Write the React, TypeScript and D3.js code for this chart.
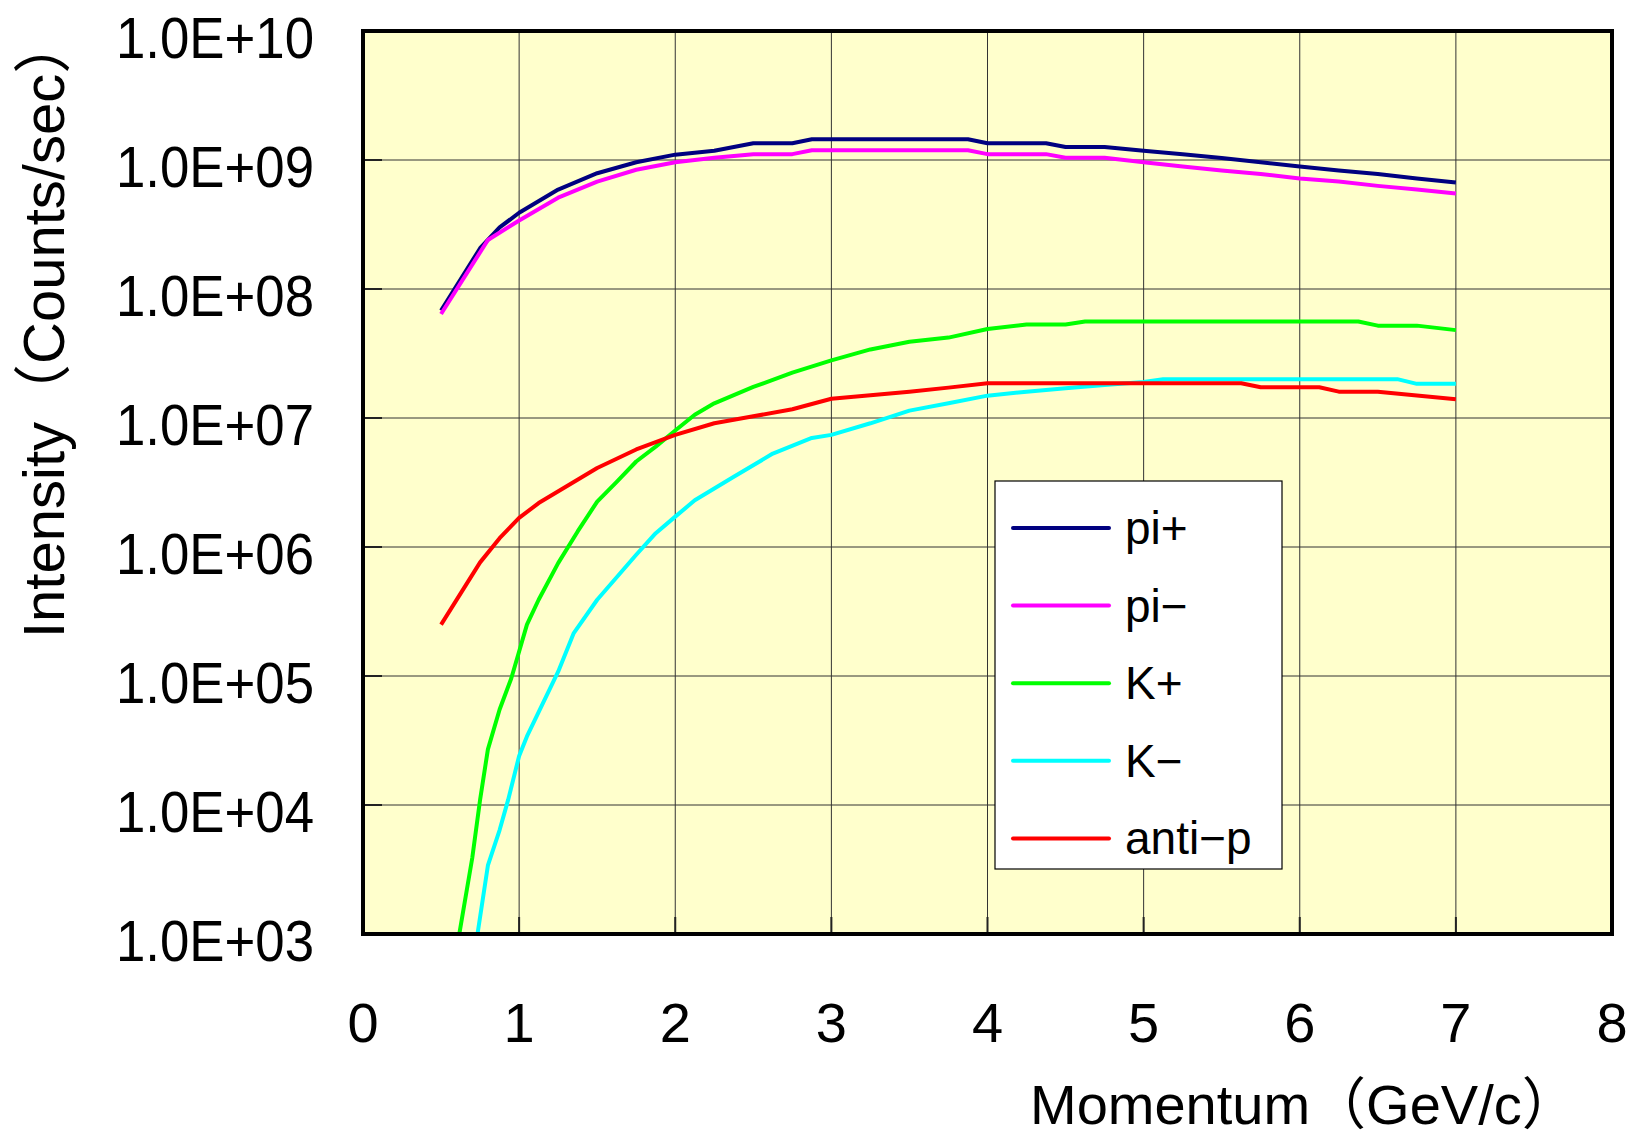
import React from 'react';
import * as d3 from 'd3';

const W = 1631;
const H = 1139;
const PLOT = { left: 363, right: 1612, top: 31, bottom: 934 };
const FONT = '"Liberation Sans", Arial, "Noto Sans CJK JP", sans-serif';

const xTicks = [0, 1, 2, 3, 4, 5, 6, 7, 8];
const yTicks = [1e3, 1e4, 1e5, 1e6, 1e7, 1e8, 1e9, 1e10];
const yTickLabels = ['1.0E+03', '1.0E+04', '1.0E+05', '1.0E+06', '1.0E+07', '1.0E+08', '1.0E+09', '1.0E+10'];

const xTitle = 'Momentum（GeV/c）';
const yTitle = 'Intensity（Counts/sec）';

const seriesNames = ['pi+', 'pi−', 'K+', 'K−', 'anti−p'];
const seriesColors = ['#000080', '#FF00FF', '#00FF00', '#00FFFF', '#FF0000'];

const piPlusP = [0.5, 0.75, 0.875, 1.0, 1.25, 1.5, 1.75, 2.0, 2.25, 2.5, 2.75, 2.875, 3.875, 4.0, 4.375, 4.5, 4.75, 5.0, 5.25, 5.5, 5.75, 6.0, 6.25, 6.5, 6.75, 7.0];
const piPlusI = [6.8e7, 2.07e8, 3.0e8, 3.9e8, 5.9e8, 7.9e8, 9.6e8, 1.1e9, 1.18e9, 1.35e9, 1.35e9, 1.45e9, 1.45e9, 1.35e9, 1.35e9, 1.26e9, 1.26e9, 1.18e9, 1.11e9, 1.035e9, 9.6e8, 8.9e8, 8.3e8, 7.8e8, 7.2e8, 6.7e8];

const piMinusP = [0.5, 0.8, 1.0, 1.25, 1.5, 1.75, 2.0, 2.25, 2.5, 2.75, 2.875, 3.875, 4.0, 4.375, 4.5, 4.75, 5.0, 5.25, 5.5, 5.75, 6.0, 6.25, 6.5, 6.75, 7.0];
const piMinusI = [6.4e7, 2.4e8, 3.4e8, 5.1e8, 6.8e8, 8.4e8, 9.6e8, 1.04e9, 1.11e9, 1.11e9, 1.19e9, 1.19e9, 1.11e9, 1.11e9, 1.04e9, 1.04e9, 9.6e8, 8.9e8, 8.3e8, 7.8e8, 7.2e8, 6.8e8, 6.3e8, 5.9e8, 5.5e8];

const kPlusP = [0.6, 0.7, 0.75, 0.8, 0.875, 0.95, 1.0, 1.05, 1.125, 1.25, 1.375, 1.5, 1.625, 1.75, 1.875, 2.0, 2.125, 2.25, 2.5, 2.75, 3.0, 3.25, 3.5, 3.75, 4.0, 4.25, 4.5, 4.625, 6.375, 6.5, 6.75, 7.0];
const kPlusI = [7.6e2, 3.9e3, 1.1e4, 2.7e4, 5.5e4, 9.6e4, 1.55e5, 2.5e5, 3.9e5, 7.5e5, 1.32e6, 2.25e6, 3.2e6, 4.6e6, 6.0e6, 8.0e6, 1.06e7, 1.3e7, 1.74e7, 2.25e7, 2.8e7, 3.4e7, 3.9e7, 4.2e7, 4.9e7, 5.3e7, 5.3e7, 5.6e7, 5.6e7, 5.2e7, 5.2e7, 4.8e7];

const kMinusP = [0.7, 0.8, 0.875, 0.93, 1.0, 1.05, 1.25, 1.35, 1.5, 1.75, 1.875, 2.0, 2.125, 2.375, 2.625, 2.875, 3.0, 3.25, 3.5, 3.75, 4.0, 4.25, 4.5, 4.75, 5.0, 5.125, 6.625, 6.75, 7.0];
const kMinusI = [5.4e2, 3.4e3, 6.4e3, 1.1e4, 2.4e4, 3.4e4, 1.08e5, 2.15e5, 3.9e5, 8.7e5, 1.28e6, 1.72e6, 2.3e6, 3.5e6, 5.3e6, 7.0e6, 7.4e6, 9.1e6, 1.14e7, 1.3e7, 1.49e7, 1.6e7, 1.7e7, 1.8e7, 1.9e7, 2.0e7, 2.0e7, 1.84e7, 1.84e7];

const antiPP = [0.5, 0.75, 0.875, 1.0, 1.125, 1.5, 1.75, 2.0, 2.25, 2.5, 2.75, 3.0, 3.25, 3.5, 3.75, 4.0, 5.625, 5.75, 6.125, 6.25, 6.5, 7.0];
const antiPI = [2.5e5, 7.6e5, 1.17e6, 1.68e6, 2.19e6, 4.1e6, 5.7e6, 7.4e6, 9.1e6, 1.03e7, 1.17e7, 1.41e7, 1.5e7, 1.6e7, 1.72e7, 1.86e7, 1.86e7, 1.73e7, 1.73e7, 1.6e7, 1.6e7, 1.4e7];

const seriesP = [piPlusP, piMinusP, kPlusP, kMinusP, antiPP];
const seriesI = [piPlusI, piMinusI, kPlusI, kMinusI, antiPI];

export default function App() {
  const x = d3.scaleLinear().domain([0, 8]).range([PLOT.left, PLOT.right]);
  const y = d3.scaleLog().domain([1e3, 1e10]).range([PLOT.bottom, PLOT.top]);
  const line = d3
    .line<[number, number]>()
    .x((d) => x(d[0]))
    .y((d) => y(d[1]));

  const series = seriesNames.map((name, i) => ({
    name,
    color: seriesColors[i],
    pts: seriesP[i].map((p, j) => [p, seriesI[i][j]] as [number, number]),
  }));

  const legend = { x: 995, y: 481, w: 287, h: 388, row0: 528, step: 77.6 };

  return (
    <svg
      width={W}
      height={H}
      style={{ position: 'absolute', left: 0, top: 0, background: '#fff' }}
      fontFamily={FONT}
    >
      <defs>
        <clipPath id="plotClip">
          <rect x={PLOT.left} y={PLOT.top} width={PLOT.right - PLOT.left} height={PLOT.bottom - PLOT.top} />
        </clipPath>
      </defs>
      <rect x={0} y={0} width={W} height={H} fill="#fff" />
      <rect
        x={PLOT.left}
        y={PLOT.top}
        width={PLOT.right - PLOT.left}
        height={PLOT.bottom - PLOT.top}
        fill="#FFFFCC"
      />
      {/* gridlines */}
      {xTicks.slice(1, -1).map((t) => (
        <line key={'gx' + t} x1={x(t)} x2={x(t)} y1={PLOT.top} y2={PLOT.bottom} stroke="#333" strokeWidth={1} />
      ))}
      {yTicks.slice(1, -1).map((t) => (
        <line key={'gy' + t} x1={PLOT.left} x2={PLOT.right} y1={y(t)} y2={y(t)} stroke="#333" strokeWidth={1} />
      ))}
      {/* inside ticks */}
      {xTicks.slice(1, -1).map((t) => (
        <line key={'tx' + t} x1={x(t)} x2={x(t)} y1={PLOT.bottom} y2={PLOT.bottom - 17} stroke="#222" strokeWidth={2} />
      ))}
      {yTicks.slice(1, -1).map((t) => (
        <line key={'ty' + t} x1={PLOT.left} x2={PLOT.left + 19} y1={y(t)} y2={y(t)} stroke="#222" strokeWidth={2} />
      ))}
      {/* series */}
      <g clipPath="url(#plotClip)">
        {series.map((s) => (
          <path
            key={s.name}
            d={line(s.pts) || ''}
            fill="none"
            stroke={s.color}
            strokeWidth={4}
            strokeLinejoin="round"
          />
        ))}
      </g>
      {/* frame */}
      <rect
        x={PLOT.left}
        y={PLOT.top}
        width={PLOT.right - PLOT.left}
        height={PLOT.bottom - PLOT.top}
        fill="none"
        stroke="#000"
        strokeWidth={4}
      />
      {/* y tick labels */}
      {yTicks.map((t, i) => (
        <text
          key={'yl' + t}
          x={314}
          y={y(t) + 27}
          textAnchor="end"
          fontSize={57}
          textLength={198}
          lengthAdjust="spacingAndGlyphs"
          fill="#000"
        >
          {yTickLabels[i]}
        </text>
      ))}
      {/* x tick labels */}
      {xTicks.map((t) => (
        <text key={'xl' + t} x={x(t)} y={1042} textAnchor="middle" fontSize={56} fill="#000">
          {String(t)}
        </text>
      ))}
      {/* axis titles */}
      <text x={1030} y={1124} fontSize={56} fill="#000">
        {xTitle}
      </text>
      <text transform="translate(64,638) rotate(-90)" fontSize={58} fill="#000">
        {yTitle}
      </text>
      {/* legend */}
      <rect x={legend.x} y={legend.y} width={legend.w} height={legend.h} fill="#fff" stroke="#000" strokeWidth={1.2} />
      {series.map((s, i) => {
        const cy = legend.row0 + i * legend.step;
        return (
          <g key={'lg' + s.name}>
            <line x1={1013} x2={1109} y1={cy} y2={cy} stroke={s.color} strokeWidth={4} strokeLinecap="round" />
            <text x={1125} y={cy + 16} fontSize={46} fill="#000">
              {s.name}
            </text>
          </g>
        );
      })}
    </svg>
  );
}
